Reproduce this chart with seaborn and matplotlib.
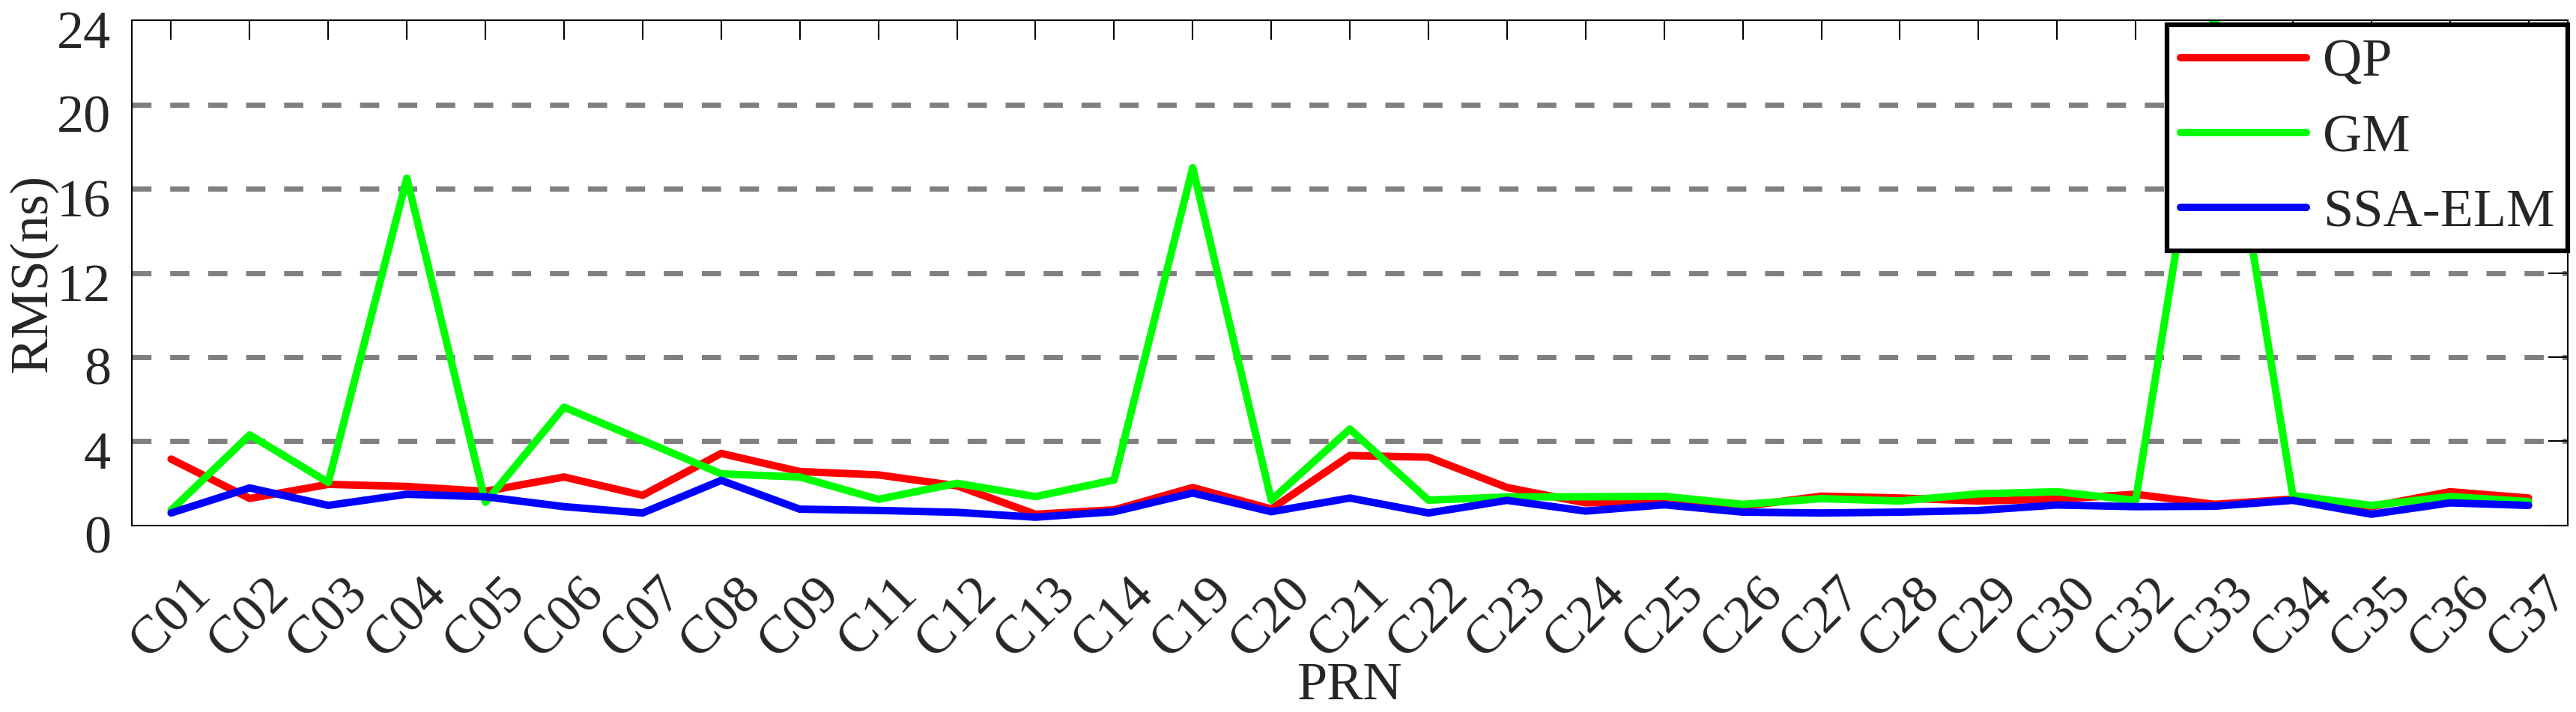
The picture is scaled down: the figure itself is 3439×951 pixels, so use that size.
import numpy as np
import pandas as pd
import matplotlib
matplotlib.use("Agg")
import matplotlib.pyplot as plt
import matplotlib.transforms as mtransforms
import seaborn as sns

# PRN labels and RMS values (ns) for each method
prn = ['C01', 'C02', 'C03', 'C04', 'C05', 'C06', 'C07', 'C08', 'C09', 'C11',
       'C12', 'C13', 'C14', 'C19', 'C20', 'C21', 'C22', 'C23', 'C24', 'C25',
       'C26', 'C27', 'C28', 'C29', 'C30', 'C32', 'C33', 'C34', 'C35', 'C36', 'C37']
qp = [3.15, 1.28, 1.95, 1.85, 1.62, 2.30, 1.43, 3.42, 2.56, 2.40,
      1.88, 0.53, 0.74, 1.80, 0.78, 3.32, 3.24, 1.80, 1.07, 1.15,
      0.90, 1.39, 1.30, 1.16, 1.25, 1.48, 1.00, 1.25, 0.89, 1.60, 1.30]
gm = [0.72, 4.30, 2.04, 16.50, 1.10, 5.62, 4.04, 2.45, 2.30, 1.24,
      2.00, 1.37, 2.16, 17.00, 1.20, 4.58, 1.20, 1.35, 1.36, 1.38,
      1.00, 1.27, 1.16, 1.50, 1.60, 1.19, 24.30, 1.42, 0.95, 1.37, 1.13]
ssa_elm = [0.59, 1.78, 0.95, 1.48, 1.36, 0.89, 0.59, 2.14, 0.77, 0.71,
           0.62, 0.39, 0.65, 1.54, 0.65, 1.30, 0.59, 1.19, 0.68, 0.98,
           0.63, 0.59, 0.63, 0.71, 0.97, 0.89, 0.91, 1.19, 0.53, 1.07, 0.95]
methods = ['QP', 'GM', 'SSA-ELM']
colors = {'QP': '#ff0000', 'GM': '#00ff00', 'SSA-ELM': '#0000ff'}
y_ticks = [0, 4, 8, 12, 16, 20, 24]

df = pd.DataFrame({'PRN': prn * 3,
                   'RMS': qp + gm + ssa_elm,
                   'Method': np.repeat(methods, len(prn))})

sns.set_style('white')
plt.rcParams['font.family'] = ['Liberation Serif', 'DejaVu Serif']

fs = 52
fig = plt.figure(figsize=(34.39, 9.51), dpi=100)
ax = fig.add_axes([0.05118, 0.2621, 0.94566, 0.7092])

sns.lineplot(data=df, x='PRN', y='RMS', hue='Method', hue_order=methods,
             palette=colors, linewidth=7.2, ax=ax, sort=False, legend=True)

ax.set_xlim(-0.5, len(prn) - 0.5)
ax.set_ylim(0, 24)
ax.set_yticks(y_ticks)
ax.set_xticks(range(len(prn)))
ax.set_xticklabels(prn, rotation=45, ha='center', va='top', fontsize=fs)
ax.set_yticklabels([str(v) for v in y_ticks], fontsize=fs)

# grid lines, dashed gray, only inner levels
for v in y_ticks[1:-1]:
    ax.axhline(v, color='#808080', linewidth=5, linestyle=(0, (3.7, 3.6)), zorder=0.5)

for side in ['top', 'bottom', 'left', 'right']:
    ax.spines[side].set_visible(True)
    ax.spines[side].set_linewidth(1.5)
    ax.spines[side].set_color('black')

ax.tick_params(axis='both', direction='in', length=18.5, width=1.5,
               top=True, right=True, color='black')
ax.tick_params(axis='x', pad=42)
ax.tick_params(axis='y', pad=20)

offset = mtransforms.ScaledTranslation(0, -12 / 100, fig.dpi_scale_trans)
for lab in ax.get_yticklabels():
    lab.set_transform(lab.get_transform() + offset)

ax.set_xlabel('PRN', fontsize=fs)
ax.set_ylabel('RMS(ns)', fontsize=fs)
ax.xaxis.set_label_coords(0.5, -0.3445)
ax.xaxis.label.set_va('baseline')
ax.yaxis.set_label_coords(-0.0406, 0.5)
ax.yaxis.label.set_va('center')

handles, labels = ax.get_legend_handles_labels()
leg = ax.legend(handles, labels, loc='upper right',
                bbox_to_anchor=(1.0, 1 - 6 / 674.4), fontsize=fs,
                frameon=True, fancybox=False, framealpha=1,
                edgecolor='black', borderpad=0.25, borderaxespad=0,
                handlelength=2.33, handletextpad=0.3, labelspacing=0.48)
leg.get_frame().set_linewidth(4.5)
for h in leg.get_lines():
    h.set_linewidth(7.2)

fig.savefig('out.png', dpi=100, facecolor='white')
